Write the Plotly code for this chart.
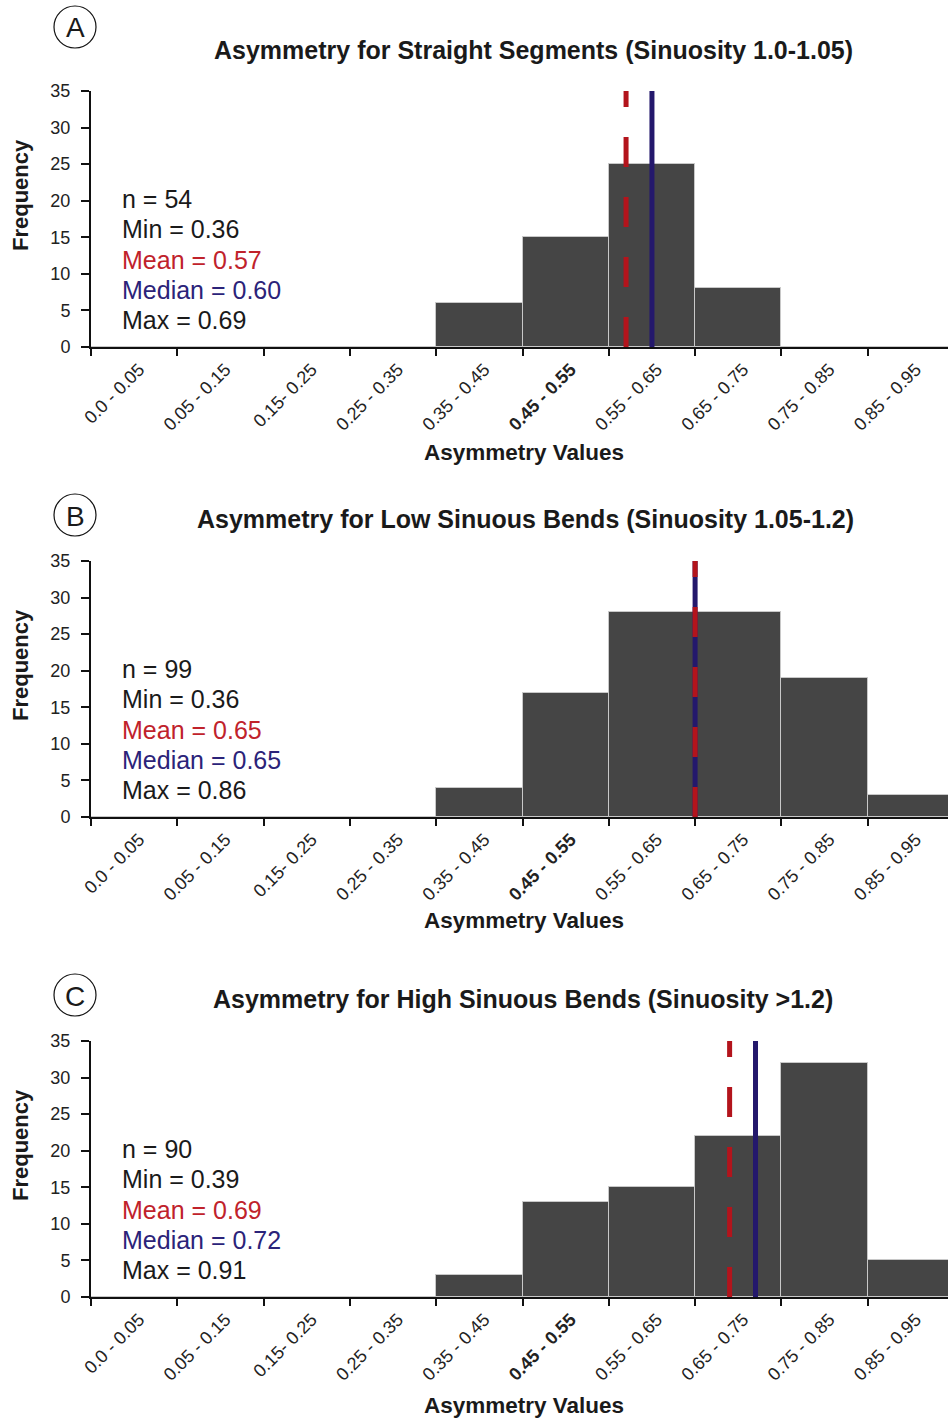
import plotly.graph_objects as go

# ---------------- data ----------------
categories = ["0.0 - 0.05", "0.05 - 0.15", "0.15- 0.25", "0.25 - 0.35", "0.35 - 0.45",
              "0.45 - 0.55", "0.55 - 0.65", "0.65 - 0.75", "0.75 - 0.85", "0.85 - 0.95"]
bold_category = "0.45 - 0.55"
bin_centers = [0.0, 0.1, 0.2, 0.3, 0.4, 0.5, 0.6, 0.7, 0.8, 0.9]
bin_width = 0.1

freq_straight = [0, 0, 0, 0, 6, 15, 25, 8, 0, 0]
freq_low = [0, 0, 0, 0, 4, 17, 28, 28, 19, 3]
freq_high = [0, 0, 0, 0, 3, 13, 15, 22, 32, 5]

titles = ["Asymmetry for Straight Segments (Sinuosity 1.0-1.05)",
          "Asymmetry for Low Sinuous Bends (Sinuosity 1.05-1.2)",
          "Asymmetry for High Sinuous Bends (Sinuosity >1.2)"]
panel_letters = ["A", "B", "C"]
n_values = [54, 99, 90]
min_values = [0.36, 0.36, 0.39]
mean_values = [0.57, 0.65, 0.69]
median_values = [0.60, 0.65, 0.72]
max_values = [0.69, 0.86, 0.91]
y_ticks = [0, 5, 10, 15, 20, 25, 30, 35]

# ---------------- styling / layout constants ----------------
W, H = 948, 1421
FONT = "Liberation Sans, Arial, sans-serif"
BAR_COLOR = "#454545"
BAR_EDGE = "#c8c8c8"
RED_LINE = "#b3141c"
BLUE_LINE = "#24186c"
RED_TEXT = "#c0222b"
BLUE_TEXT = "#2b2379"
TEXT = "#1a1a1a"

plot_left = 91
panel_tops = [91, 561, 1041]
plot_h = 256
cat_px = 86.3
title_y = [50, 519, 999]
title_x = [533, 525, 523]
letter_y = [27, 515, 995]
xtitle_y = [452, 921, 1405]


def px(x):
    return x / W


def py(y):
    return 1 - y / H


series = [freq_straight, freq_low, freq_high]
fig = go.Figure()

ticktext = [f"<b>{c}</b>" if c == bold_category else c for c in categories]
visible_span = (W - plot_left) / cat_px * bin_width
x_range = [bin_centers[0] - bin_width / 2, bin_centers[0] - bin_width / 2 + visible_span]
boundaries = [c - bin_width / 2 for c in bin_centers] + [bin_centers[-1] + bin_width / 2]

annotations = []
shapes = []

for i, freqs in enumerate(series):
    k = "" if i == 0 else str(i + 1)
    fig.add_trace(go.Bar(
        x=bin_centers, y=freqs, width=bin_width,
        marker=dict(color=BAR_COLOR, line=dict(color=BAR_EDGE, width=1)),
        xaxis="x" + k, yaxis="y" + k, showlegend=False, hoverinfo="x+y",
    ))
    top = panel_tops[i]
    bottom = top + plot_h
    fig.layout["xaxis" + k] = dict(
        domain=[px(plot_left), 1], range=x_range, anchor="y" + k, automargin=False,
        tickmode="array", tickvals=bin_centers, ticktext=ticktext, tickangle=-45,
        ticks="", showline=True, linecolor="#111", linewidth=2,
        ticklabelshift=5, ticklabelstandoff=3,
        tickfont=dict(family=FONT, size=18, color="#222"),
        minor=dict(tickmode="array", tickvals=boundaries, ticks="outside",
                   ticklen=7, tickwidth=2, tickcolor="#111"),
        showgrid=False, zeroline=False, fixedrange=True,
    )
    fig.layout["yaxis" + k] = dict(
        domain=[py(bottom), py(top)], range=[0, 35], anchor="x" + k, automargin=False,
        tickmode="array", tickvals=y_ticks, ticks="outside", ticklen=8, tickwidth=2,
        tickcolor="#111", showline=True, linecolor="#111", linewidth=2,
        ticklabelstandoff=7,
        tickfont=dict(family=FONT, size=18, color="#222"),
        showgrid=False, zeroline=False, fixedrange=True,
    )
    # median (solid) then mean (dashed) lines
    shapes.append(dict(type="line", xref="x" + k, yref="y" + k,
                       x0=median_values[i], x1=median_values[i], y0=0, y1=35,
                       line=dict(color=BLUE_LINE, width=5)))
    shapes.append(dict(type="line", xref="x" + k, yref="y" + k,
                       x0=mean_values[i], x1=mean_values[i], y0=0, y1=35,
                       line=dict(color=RED_LINE, width=5, dash="30px,30px")))
    # panel letter in circle
    r = 21
    shapes.append(dict(type="circle", xref="paper", yref="paper",
                       x0=px(75 - r), x1=px(75 + r), y0=py(letter_y[i] + r), y1=py(letter_y[i] - r),
                       line=dict(color="#111", width=1.2)))
    annotations.append(dict(x=px(75), y=py(letter_y[i] + 1), xref="paper", yref="paper",
                            text=panel_letters[i], showarrow=False, xanchor="center", yanchor="middle",
                            font=dict(family=FONT, size=28, color=TEXT)))
    # title
    annotations.append(dict(x=px(title_x[i]), y=py(title_y[i]), xref="paper", yref="paper",
                            text=f"<b>{titles[i]}</b>", showarrow=False, xanchor="center",
                            yanchor="middle", font=dict(family=FONT, size=25, color=TEXT)))
    # axis titles
    annotations.append(dict(x=px(524), y=py(xtitle_y[i]), xref="paper", yref="paper",
                            text="<b>Asymmetry Values</b>", showarrow=False, xanchor="center",
                            yanchor="middle", font=dict(family=FONT, size=22.5, color=TEXT)))
    annotations.append(dict(x=px(20), y=py(top + 104), xref="paper", yref="paper",
                            text="<b>Frequency</b>", showarrow=False, xanchor="center",
                            yanchor="middle", textangle=-90,
                            font=dict(family=FONT, size=22, color=TEXT)))
    # stats text
    lines = [(f"n = {n_values[i]}", TEXT),
             (f"Min = {min_values[i]:.2f}", TEXT),
             (f"Mean = {mean_values[i]:.2f}", RED_TEXT),
             (f"Median = {median_values[i]:.2f}", BLUE_TEXT),
             (f"Max = {max_values[i]:.2f}", TEXT)]
    for j, (txt, col) in enumerate(lines):
        annotations.append(dict(x=px(120), y=py(top + 108 + j * 30.3), xref="paper", yref="paper",
                                text=txt, showarrow=False, xanchor="left", yanchor="middle",
                                font=dict(family=FONT, size=25, color=col)))

fig.update_layout(
    width=W, height=H, margin=dict(l=0, r=0, t=0, b=0, autoexpand=False),
    paper_bgcolor="white", plot_bgcolor="white", bargap=0,
    annotations=annotations, shapes=shapes, showlegend=False,
    font=dict(family=FONT),
)

fig.write_html("out.html", config={"displayModeBar": False},
               post_script="document.body.style.margin='0';document.body.style.overflow='hidden';")
